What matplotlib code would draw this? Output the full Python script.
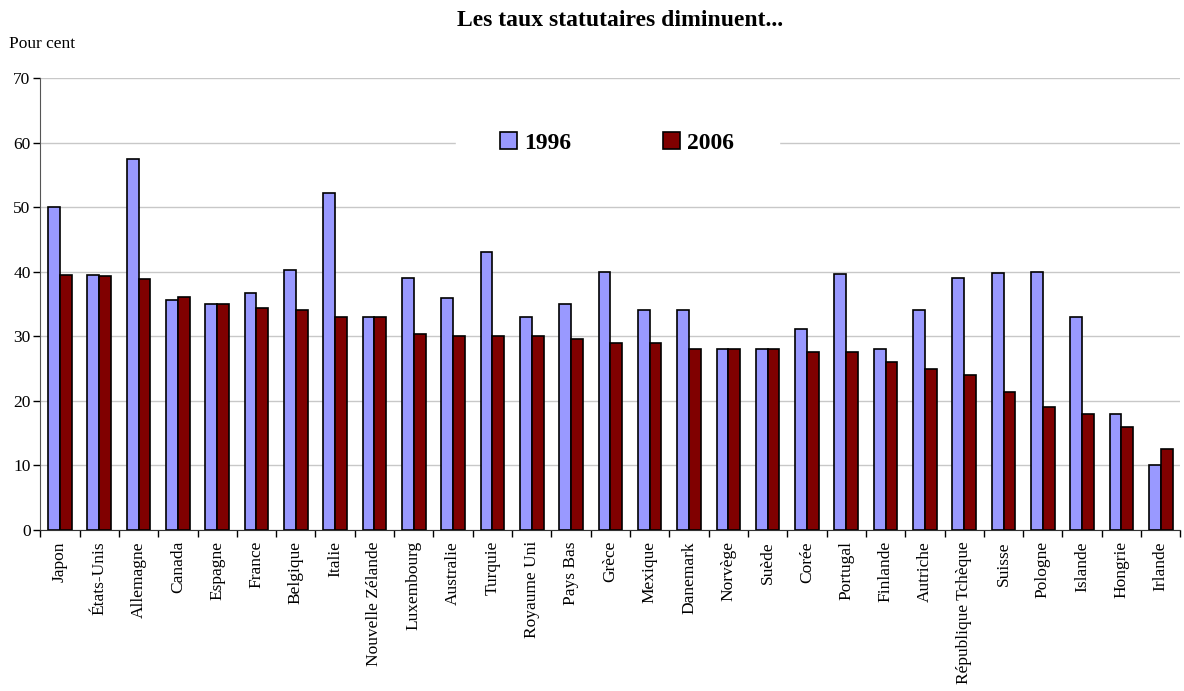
import numpy as np
import matplotlib.pyplot as plt
from matplotlib.ticker import FixedLocator, NullFormatter

plt.rcParams['font.family'] = ['Liberation Serif', 'DejaVu Serif']

countries = ["Japon", "États-Unis", "Allemagne", "Canada", "Espagne", "France",
             "Belgique", "Italie", "Nouvelle Zélande", "Luxembourg", "Australie",
             "Turquie", "Royaume Uni", "Pays Bas", "Grèce", "Mexique", "Danemark",
             "Norvège", "Suède", "Corée", "Portugal", "Finlande", "Autriche",
             "République Tchèque", "Suisse", "Pologne", "Islande", "Hongrie", "Irlande"]
rate_1996 = [50.0, 39.5, 57.4, 35.6, 35.0, 36.7, 40.2, 52.2, 33.0, 39.1, 36.0,
             43.0, 33.0, 35.0, 40.0, 34.0, 34.0, 28.0, 28.0, 31.1, 39.6, 28.0,
             34.0, 39.0, 39.8, 40.0, 33.0, 18.0, 10.0]
rate_2006 = [39.5, 39.3, 38.9, 36.1, 35.0, 34.4, 34.0, 33.0, 33.0, 30.4, 30.0,
             30.0, 30.0, 29.6, 29.0, 29.0, 28.0, 28.0, 28.0, 27.5, 27.5, 26.0,
             25.0, 24.0, 21.3, 19.0, 18.0, 16.0, 12.5]

fig = plt.figure(figsize=(11.84, 6.91), dpi=100)
ax = fig.add_axes([0.034, 0.233, 0.963, 0.654])

x = np.arange(len(countries))
w = 0.3
ax.bar(x - w / 2, rate_1996, w, color='#9999FF', edgecolor='black', linewidth=1.2,
       label='1996', zorder=3)
ax.bar(x + w / 2, rate_2006, w, color='#800000', edgecolor='black', linewidth=1.2,
       label='2006', zorder=3)

ax.set_xlim(-0.5, len(countries) - 0.5)
ax.set_ylim(0, 70)
ax.set_yticks(range(0, 71, 10))
ax.yaxis.grid(True, color='#c8c8c8', linewidth=1, zorder=0)

# tick marks on category boundaries, labels at centres
ax.xaxis.set_major_locator(FixedLocator(np.arange(-0.5, len(countries), 1)))
ax.xaxis.set_major_formatter(NullFormatter())
ax.xaxis.set_minor_locator(FixedLocator(x))
ax.set_xticklabels(countries, minor=True, rotation=90, fontsize=12.5)
ax.tick_params(axis='x', which='major', length=5, width=1)
ax.tick_params(axis='x', which='minor', length=0, pad=8)
ax.tick_params(axis='y', length=5, width=1, labelsize=12.5, pad=2)

for s in ['top', 'right']:
    ax.spines[s].set_visible(False)
ax.spines['left'].set_color('#555555')
ax.spines['bottom'].set_color('#333333')

leg = ax.legend(loc='center', bbox_to_anchor=(0.506, 0.856), ncol=2,
                frameon=True, fancybox=False, edgecolor='white', framealpha=1,
                prop={'weight': 'bold', 'size': 17}, handlelength=0.7,
                handleheight=0.7, handletextpad=0.3, columnspacing=3.9,
                borderpad=1.9, borderaxespad=0)
leg.set_zorder(5)

fig.text(0.524, 0.970, 'Les taux statutaires diminuent...', ha='center', va='center',
         fontsize=17, fontweight='bold')
fig.text(0.008, 0.936, 'Pour cent', ha='left', va='center', fontsize=12.5)

fig.savefig('out.png', dpi=100)
